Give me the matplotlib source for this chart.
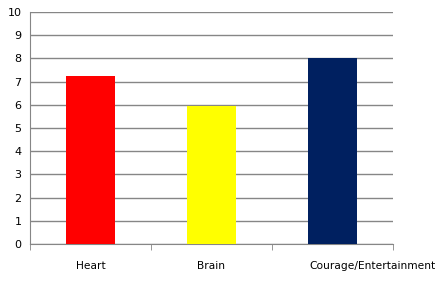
import matplotlib.pyplot as plt
from matplotlib.ticker import FixedLocator
from matplotlib.transforms import ScaledTranslation

# data
categories = ['Heart', 'Brain', 'Courage/Entertainment']
values = [7.24, 5.95, 8.0]
colors = ['#FF0000', '#FFFF00', '#002060']
yticks = list(range(0, 11))

fig = plt.figure(figsize=(4.47, 2.91), dpi=100)
ax = fig.add_axes([30 / 447, 1 - 244 / 291, 363 / 447, 232 / 291])

x = range(len(categories))
ax.bar(x, values, width=0.4, color=colors, zorder=3)

ax.set_xlim(-0.5, len(categories) - 0.5)
ax.set_ylim(0, 10)
ax.set_yticks(yticks)
ax.yaxis.grid(True, color='#868686', linewidth=1, zorder=0)

# category labels centred, tick marks on the boundaries
ax.set_xticks(list(x))
ax.set_xticklabels(categories)
ax.xaxis.set_minor_locator(FixedLocator([-0.5, 0.5, 1.5, 2.5]))
ax.tick_params(axis='x', which='major', length=0, pad=12, labelsize=7.7)
ax.tick_params(axis='x', which='minor', length=4, color='#868686', direction='out')
ax.tick_params(axis='y', length=0, pad=6, labelsize=8)

# the long label starts at its bar's left edge, like in the original
last = ax.get_xticklabels()[-1]
last.set_ha('left')
last.set_transform(last.get_transform() + ScaledTranslation(-0.23, 0, fig.dpi_scale_trans))

for side in ['top', 'right']:
    ax.spines[side].set_visible(False)
for side in ['left', 'bottom']:
    ax.spines[side].set_color('#868686')

fig.savefig('out.png', dpi=100)
